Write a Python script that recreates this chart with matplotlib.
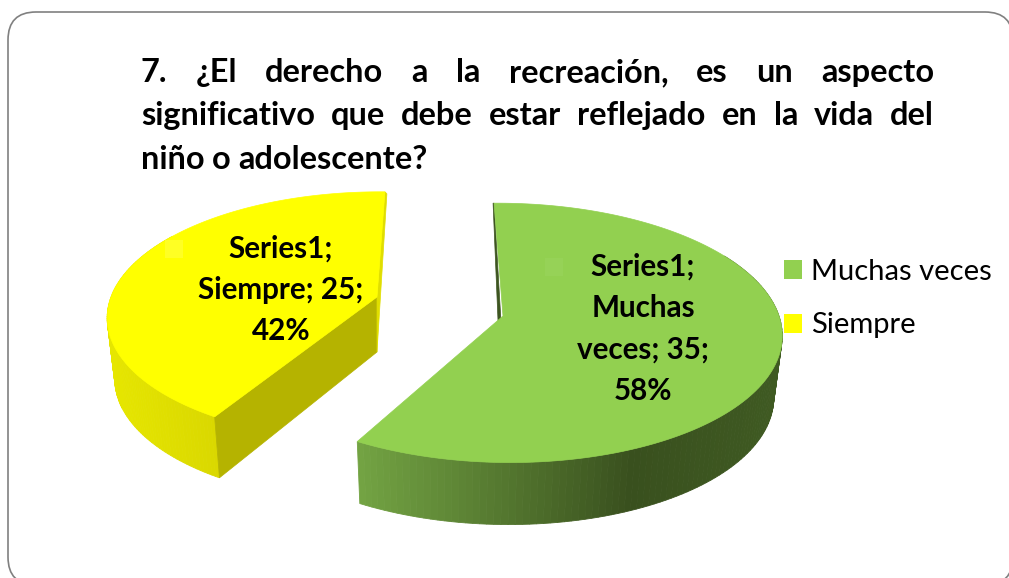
import numpy as np
import matplotlib
matplotlib.use("Agg")
import matplotlib.pyplot as plt
from matplotlib.colors import LinearSegmentedColormap
from matplotlib.patches import FancyBboxPatch, Patch, Polygon, Rectangle

plt.rcParams['font.family'] = ['Lato', 'DejaVu Sans']

# chart data
series_name = "Series1"
categories = ["Muchas veces", "Siempre"]
wrapped_names = ["Muchas\nveces", "Siempre"]
values = [35, 25]
title_lines = [
    "7. ¿El derecho a la recreación, es un aspecto",
    "significativo que debe estar reflejado en la vida del",
    "niño o adolescente?",
]

W, H = 1009, 578

top_colors = ["#92d050", "#ffff00"]
# perspective set up of each exploded slice (pixels of the figure)
slice_geo = [
    dict(ax=503, ay=316, r=276, a=-127.5, c=0.13, vx=455, depth=62, rot=0.8),
    dict(ax=377, ay=297, r=266, a=-121.5, c=0.155, vx=400, depth=61, rot=-1.2),
]
wall_ramps = [
    LinearSegmentedColormap.from_list("g", [(0, "#73a443"), (0.65, "#39501e"), (1, "#3f5a22")]),
    LinearSegmentedColormap.from_list("y", [(0, "#e6e600"), (0.6, "#d3d000"), (1, "#c2bf00")]),
]
inner_colors = ["#3d5520", "#e0de00"]
label_pos = [(643, 329), (281, 290)]
# faint squares left on the slices by the label keys
ghost_keys = [((545, 258), "#96d257"), ((165, 240), "#ffff24")]


def project(geo, t):
    # circle of the pie -> screen, near side larger than the far side
    u, v = np.cos(t), np.sin(t)
    d = 1 + geo['c'] * v
    x = geo['vx'] + (geo['ax'] - geo['vx'] + geo['r'] * u) / d
    y = geo['ay'] + geo['a'] * v / d
    return x, y


def lower(geo, x, y):
    # the bottom rim shrinks slightly toward the vanishing point
    return geo['vx'] + (x - geo['vx']) * 0.974, y + geo['depth']


def draw_slice(ax, geo, t0, t1, top_color, ramp, inner_color, is_first):
    t = np.linspace(t0, t1, 160) + np.radians(geo['rot'])
    x, y = project(geo, t)
    xb, yb = lower(geo, x, y)

    # rim of the slice, split in strips to get the shading
    lo, hi = x.min(), x.max()
    for i in range(len(t) - 1):
        if y[i] < geo['ay'] - 60:
            continue
        col = ramp((0.5 * (x[i] + x[i + 1]) - lo) / (hi - lo))
        quad = [(x[i], y[i]), (x[i + 1], y[i + 1]), (xb[i + 1], yb[i + 1]), (xb[i], yb[i])]
        ax.add_patch(Polygon(quad, closed=True, fc=col, ec=col, lw=0.6, zorder=2))

    if is_first:
        # thin dark sliver left of the cut at the top
        ax.add_patch(Polygon([(x[0], y[0]), (x[0] - 1, y[0]), (geo['ax'] - 3.5, geo['ay'] + 40),
                              (geo['ax'], geo['ay'] + 40)],
                             closed=True, fc=inner_color, ec=inner_color, lw=0.5, zorder=2))
    else:
        # cut faces of the yellow slice
        ax.add_patch(Polygon([(x[0], y[0]), (geo['ax'], geo['ay']), (geo['ax'], geo['ay'] + 55),
                              (xb[0], yb[0])],
                             closed=True, fc="#b5b300", ec="#b5b300", lw=0.5, zorder=3))
        ax.add_patch(Polygon([(x[-1], y[-1]), (geo['ax'], geo['ay']), (geo['ax'], geo['ay'] + 55),
                              (x[-1] + 2, y[-1] + 2)],
                             closed=True, fc=inner_color, ec=inner_color, lw=0.5, zorder=3))

    outline = list(zip(x, y)) + [(geo['ax'], geo['ay'])]
    ax.add_patch(Polygon(outline, closed=True, fc=top_color, ec=top_color, lw=0.5, zorder=4))


def justified_line(ax, line, x0, x1, y, fontsize, justify=True):
    # Word places are worked out from the real text widths
    fig = ax.figure
    rend = fig.canvas.get_renderer()
    words = line.split(" ")
    items = [ax.text(x0, y, w, fontsize=fontsize, fontweight='bold', color='black',
                     ha='left', va='baseline', zorder=6) for w in words]
    widths = [it.get_window_extent(rend).width for it in items]
    if justify:
        gap = (x1 - x0 - sum(widths)) / (len(words) - 1)
    else:
        gap = fontsize * 0.32
    xp = x0
    for it, wd in zip(items, widths):
        it.set_x(xp)
        xp += wd + gap


fig = plt.figure(figsize=(W / 100, H / 100), dpi=100)
ax = fig.add_axes([0, 0, 1, 1])
ax.set_xlim(0, W)
ax.set_ylim(H, 0)
ax.axis('off')

# rounded frame, runs off the right and bottom of the picture
ax.add_patch(FancyBboxPatch((8 + 28, 12 + 28), 1013 - 8 - 56, 585 - 12 - 56,
                            boxstyle="round,pad=28,rounding_size=28",
                            fc='white', ec='#808080', lw=1.2, zorder=0))

total = sum(values)
start = np.radians(90)
spans = [2 * np.pi * v / total for v in values]

# green goes clockwise from the top, yellow fills the rest
draw_slice(ax, slice_geo[0], start, start - spans[0],
           top_colors[0], wall_ramps[0], inner_colors[0], True)
draw_slice(ax, slice_geo[1], start - spans[0], start - spans[0] - spans[1],
           top_colors[1], wall_ramps[1], inner_colors[1], False)

for (pos, col) in ghost_keys:
    ax.add_patch(Rectangle(pos, 18, 18, fc=col, ec='none', zorder=5))

for name, val, pos in zip(wrapped_names, values, label_pos):
    pct = round(100 * val / total)
    ax.text(pos[0], pos[1], f"{series_name};\n{name}; {val};\n{pct}%",
            ha='center', va='center', fontsize=21.3, fontweight='bold',
            linespacing=1.58, color='black', zorder=6)

fig.canvas.draw()
baselines = [82, 125, 169]
for i, line in enumerate(title_lines):
    justified_line(ax, line, 141, 934, baselines[i], 23.4, justify=i < 2)

handles = [Patch(fc=c, ec='none') for c in top_colors]
ax.legend(handles, categories, loc='upper left', bbox_to_anchor=(775, 250), bbox_transform=ax.transData,
          frameon=False, fontsize=21, handlelength=0.62, handleheight=0.62, handletextpad=0.3,
          labelspacing=0.95, borderpad=0.3, borderaxespad=0)

fig.savefig("out.png", dpi=100)
